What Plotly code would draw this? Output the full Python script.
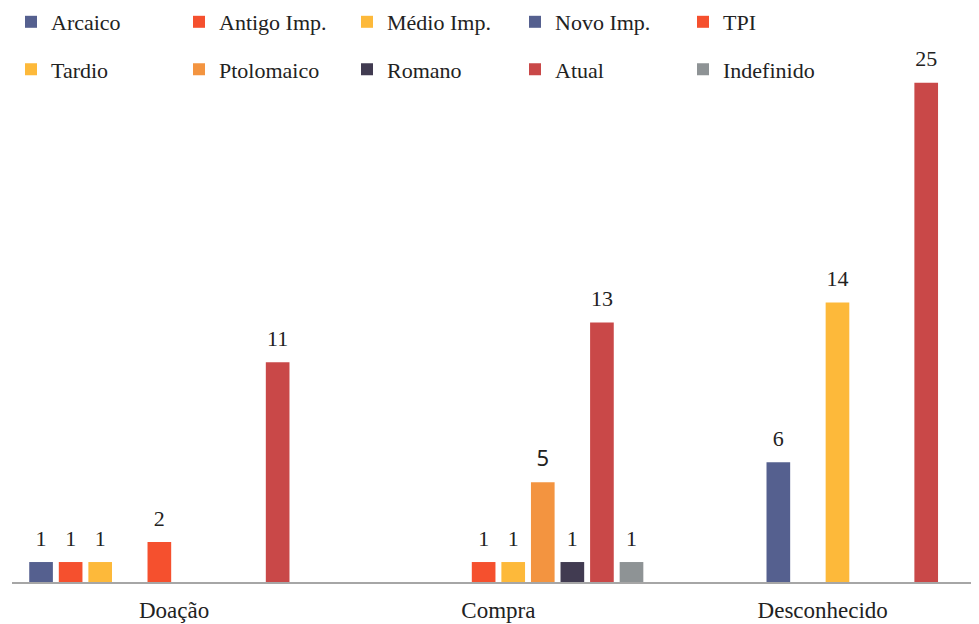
import plotly.graph_objects as go

categories = ["Doação", "Compra", "Desconhecido"]
series_names = ["Arcaico", "Antigo Imp.", "Médio Imp.", "Novo Imp.", "TPI",
                "Tardio", "Ptolomaico", "Romano", "Atual", "Indefinido"]
arcaico = [1, None, None]
antigo_imp = [1, None, None]
medio_imp = [1, None, None]
novo_imp = [None, None, 6]
tpi = [2, 1, None]
tardio = [None, 1, 14]
ptolomaico = [None, 5, None]
romano = [None, 1, None]
atual = [11, 13, 25]
indefinido = [None, 1, None]

values = [arcaico, antigo_imp, medio_imp, novo_imp, tpi,
          tardio, ptolomaico, romano, atual, indefinido]
colors = ["#55608F", "#F5502E", "#FDB93A", "#55608F", "#F5502E",
          "#FDB93A", "#F39440", "#413B51", "#C94848", "#8E9395"]

FONT = "Liberation Serif"
SANS = "Noto Sans"
W, H = 971, 616

fig = go.Figure()
for i, (name, vals, col) in enumerate(zip(series_names, values, colors)):
    fig.add_trace(go.Bar(
        name=name, x=categories, y=vals, marker=dict(color=col, line=dict(width=0)),
        offsetgroup=str(i), legend="legend" if i < 5 else "legend2",
    ))
for i, (name, vals) in enumerate(zip(series_names, values)):
    fams = [(SANS if (name == "Ptolomaico" and v == 5) else FONT) for v in vals]
    fig.add_trace(go.Scatter(
        x=categories, y=vals, mode="markers+text", offsetgroup=str(i),
        text=[("" if v is None else str(v)) for v in vals],
        textposition="top center",
        textfont=dict(family=fams, size=22, color="#222222"),
        marker=dict(size=16, opacity=0), showlegend=False, hoverinfo="skip",
        cliponaxis=False,
    ))

fig.update_layout(
    width=W, height=H,
    margin=dict(l=3.5, r=0, t=32, b=42.3, autoexpand=False),
    paper_bgcolor="white", plot_bgcolor="white",
    barmode="group", bargap=0.088, bargroupgap=0.2,
    scattermode="group", scattergap=0.088,
    font=dict(family=FONT, size=22, color="#222222"),
    xaxis=dict(range=[-0.5, 2.482], showline=True, linecolor="#A6A6A6", linewidth=1.5,
               ticks="", showgrid=False, tickfont=dict(family=FONT, size=23),
               ticklabelstandoff=7),
    yaxis=dict(range=[0, 27.14], visible=False, showgrid=False),
    legend=dict(orientation="h", xref="container", yref="container",
                x=3/W, y=1-14/H, xanchor="left", yanchor="middle",
                entrywidth=123, entrywidthmode="pixels", font=dict(family=FONT, size=22),
                bgcolor="rgba(0,0,0,0)", itemclick=False),
    legend2=dict(orientation="h", xref="container", yref="container",
                 x=3/W, y=1-61.5/H, xanchor="left", yanchor="middle",
                 entrywidth=123, entrywidthmode="pixels", font=dict(family=FONT, size=22),
                 bgcolor="rgba(0,0,0,0)", itemclick=False),
)
fig.write_html("out.html")
